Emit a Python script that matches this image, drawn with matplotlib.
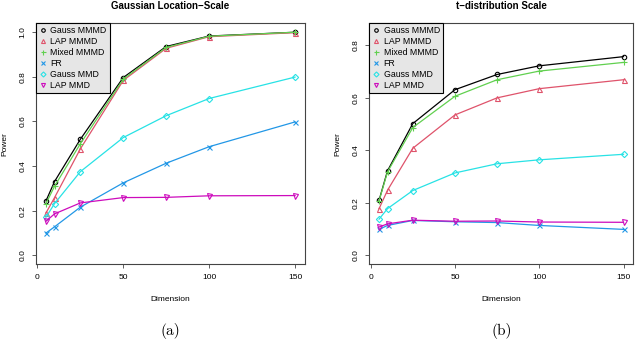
import matplotlib
matplotlib.use("Agg")
import matplotlib.pyplot as plt

plt.rcParams['font.family'] = ['Liberation Sans', 'DejaVu Sans']

dims = [5, 10, 25, 50, 75, 100, 150]
methods = ["Gauss MMMD", "LAP MMMD", "Mixed MMMD", "FR", "Gauss MMD", "LAP MMD"]

# panel (a): Gaussian location-scale
loc_gauss_mmmd = [0.244, 0.331, 0.520, 0.797, 0.936, 0.983, 1.000]
loc_lap_mmmd = [0.190, 0.259, 0.477, 0.784, 0.928, 0.980, 0.998]
loc_mixed_mmmd = [0.232, 0.310, 0.500, 0.790, 0.932, 0.982, 1.000]
loc_fr = [0.100, 0.128, 0.216, 0.325, 0.413, 0.487, 0.598]
loc_gauss_mmd = [0.171, 0.232, 0.375, 0.528, 0.626, 0.703, 0.799]
loc_lap_mmd = [0.153, 0.186, 0.235, 0.259, 0.260, 0.267, 0.268]

# panel (b): t-distribution scale
t_gauss_mmmd = [0.210, 0.322, 0.502, 0.631, 0.689, 0.722, 0.757]
t_lap_mmmd = [0.178, 0.248, 0.408, 0.535, 0.600, 0.635, 0.669]
t_mixed_mmmd = [0.208, 0.318, 0.487, 0.606, 0.669, 0.702, 0.735]
t_fr = [0.099, 0.114, 0.133, 0.128, 0.125, 0.114, 0.099]
t_gauss_mmd = [0.138, 0.178, 0.247, 0.314, 0.349, 0.364, 0.385]
t_lap_mmd = [0.108, 0.120, 0.134, 0.130, 0.131, 0.127, 0.126]

colors = ["black", "#DF536B", "#61D04F", "#2297E6", "#28E2E5", "#CD0BBC"]
markers = ["o", "^", "+", "x", "D", "v"]
msizes = [3.2, 3.6, 4.5, 3.6, 3.2, 3.6]


def draw_panel(ax, series, title, ymax, yticks, tag):
    for vals, name, c, m, ms in zip(series, methods, colors, markers, msizes):
        ax.plot(dims, vals, color=c, lw=0.9, marker=m, ms=ms, mfc="none",
                mec=c, mew=0.8, label=name)
    pad_x = 0.04 * (150 - 5)
    ax.set_xlim(5 - pad_x, 150 + pad_x)
    ax.set_ylim(-0.04 * ymax, ymax * 1.04)
    ax.set_xticks([0, 50, 100, 150])
    ax.set_yticks(yticks)
    ax.set_yticklabels(["%.1f" % t for t in yticks], rotation=90, va="center")
    ax.tick_params(labelsize=6, length=3, width=0.6, pad=4, color="#444444")
    for s in ax.spines.values():
        s.set_linewidth(0.8)
        s.set_color("#444444")
    ax.set_title(title, fontsize=7, fontweight="bold", pad=10)
    ax.set_xlabel("Dimension", fontsize=6, labelpad=11)
    ax.set_ylabel("Power", fontsize=6, labelpad=8)
    leg = ax.legend(loc="upper left", fontsize=6.3, frameon=True, fancybox=False,
                    borderaxespad=0, handlelength=0.8, handletextpad=0.5,
                    borderpad=0.35, labelspacing=0.22, markerscale=0.8)
    leg.get_frame().set_facecolor("#e6e6e6")
    leg.get_frame().set_edgecolor("black")
    leg.get_frame().set_linewidth(0.8)
    leg.get_frame().set_alpha(1)
    # legend shows symbols only, like the R version
    for h in leg.legend_handles:
        h.set_linestyle("none")
    bb = ax.get_position()
    ax.figure.text(bb.x0 + bb.width / 2, 1 - 331 / 340, tag, fontsize=11,
                   family="cmr10", ha="center", va="center")


fig = plt.figure(figsize=(6.4, 3.4), dpi=100)
ax1 = fig.add_axes([36 / 640, 1 - 264.3 / 340, 269 / 640, 241 / 340])
ax2 = fig.add_axes([369.3 / 640, 1 - 264.3 / 340, 264 / 640, 241 / 340])

draw_panel(ax1, [loc_gauss_mmmd, loc_lap_mmmd, loc_mixed_mmmd, loc_fr,
                 loc_gauss_mmd, loc_lap_mmd],
           "Gaussian Location\u2212Scale", 1.0, [0.0, 0.2, 0.4, 0.6, 0.8, 1.0], "(a)")
draw_panel(ax2, [t_gauss_mmmd, t_lap_mmmd, t_mixed_mmmd, t_fr,
                 t_gauss_mmd, t_lap_mmd],
           "t\u2212distribution Scale", 0.85, [0.0, 0.2, 0.4, 0.6, 0.8], "(b)")

fig.savefig("out.png", dpi=100)
